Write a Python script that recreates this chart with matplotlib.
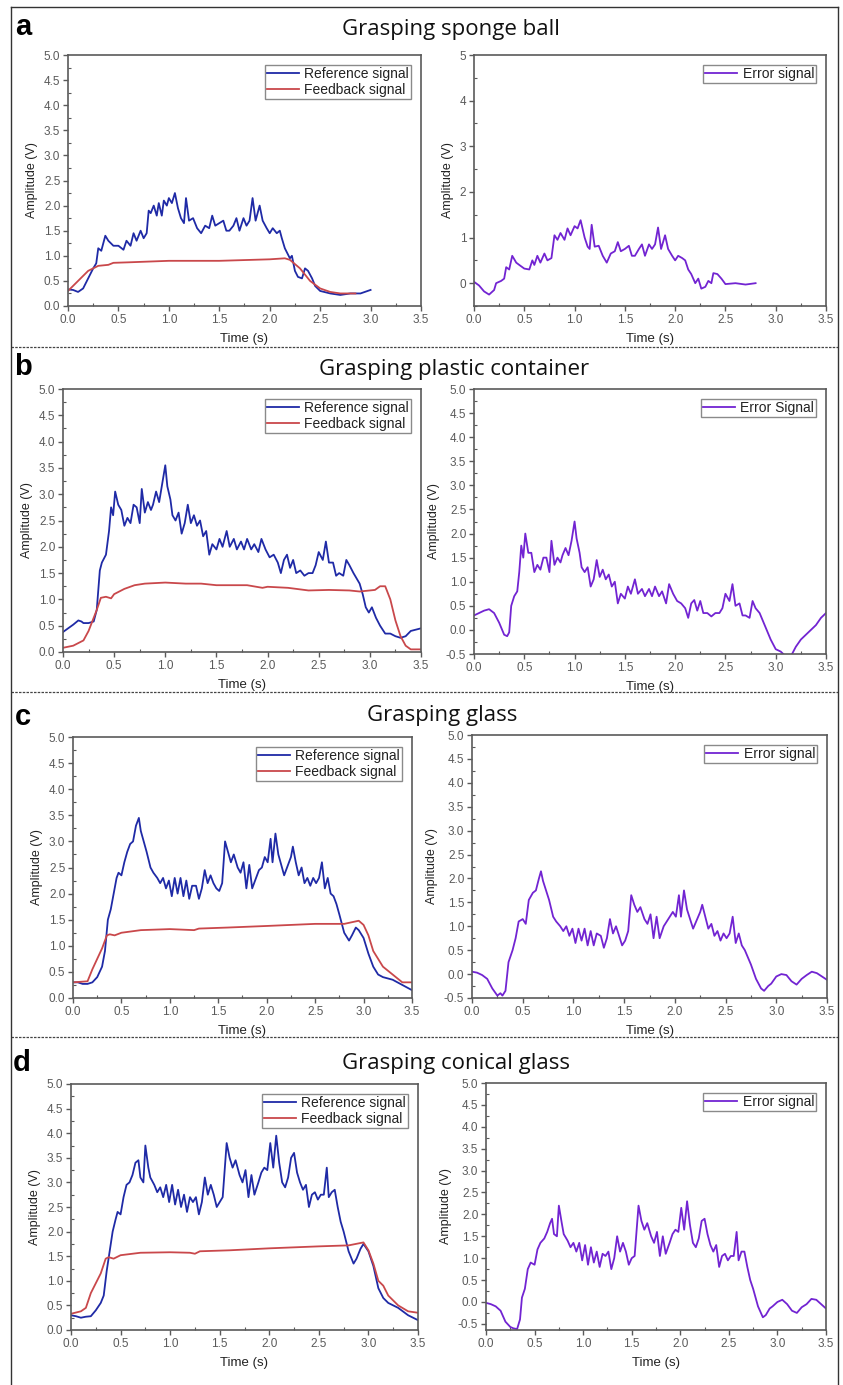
import numpy as np
import matplotlib.pyplot as plt
from matplotlib.ticker import MultipleLocator, FormatStrFormatter
from matplotlib.lines import Line2D

# ---- data: (time s, amplitude V) ----
sponge_ref = [(0.0, 0.33), (0.05, 0.32), (0.1, 0.28), (0.15, 0.35), (0.2, 0.55), (0.25, 0.75), (0.28, 0.85),
              (0.3, 1.15), (0.33, 1.1), (0.37, 1.4), (0.4, 1.3), (0.45, 1.2), (0.5, 1.2), (0.55, 1.12),
              (0.58, 1.3), (0.62, 1.2), (0.65, 1.45), (0.68, 1.3), (0.72, 1.5), (0.75, 1.35), (0.78, 1.45),
              (0.8, 1.9), (0.82, 1.85), (0.85, 2.0), (0.88, 1.8), (0.9, 2.05), (0.93, 1.8), (0.95, 2.1),
              (0.98, 2.0), (1.0, 2.15), (1.03, 2.05), (1.06, 2.25), (1.09, 1.95), (1.12, 1.75), (1.15, 1.65),
              (1.17, 2.15), (1.2, 1.7), (1.24, 1.75), (1.28, 1.55), (1.32, 1.45), (1.36, 1.6), (1.4, 1.55),
              (1.43, 1.8), (1.46, 1.6), (1.5, 1.65), (1.54, 1.7), (1.57, 1.5), (1.6, 1.5), (1.64, 1.6),
              (1.67, 1.75), (1.7, 1.5), (1.74, 1.75), (1.77, 1.6), (1.8, 1.7), (1.83, 2.15), (1.86, 1.7),
              (1.9, 2.0), (1.93, 1.7), (1.97, 1.55), (2.0, 1.45), (2.03, 1.55), (2.07, 1.45), (2.1, 1.5),
              (2.12, 1.35), (2.15, 1.15), (2.2, 0.95), (2.22, 1.0), (2.25, 0.7), (2.28, 0.58), (2.32, 0.55),
              (2.35, 0.75), (2.38, 0.7), (2.42, 0.55), (2.45, 0.4), (2.5, 0.3), (2.6, 0.25), (2.7, 0.22),
              (2.8, 0.25), (2.9, 0.25), (3.0, 0.32)]
sponge_fb = [(0.0, 0.3), (0.1, 0.5), (0.2, 0.7), (0.3, 0.8), (0.4, 0.82), (0.45, 0.86), (0.6, 0.87),
             (1.0, 0.9), (1.5, 0.9), (2.0, 0.93), (2.15, 0.95), (2.2, 0.92), (2.3, 0.75), (2.4, 0.5),
             (2.5, 0.35), (2.6, 0.28), (2.7, 0.25), (2.85, 0.25)]
sponge_err = [(0.0, 0.03), (0.05, -0.05), (0.1, -0.18), (0.15, -0.25), (0.2, -0.15), (0.22, 0.0), (0.27, 0.05),
              (0.3, 0.1), (0.32, 0.35), (0.35, 0.3), (0.38, 0.6), (0.42, 0.45), (0.45, 0.4), (0.5, 0.32),
              (0.55, 0.3), (0.58, 0.5), (0.6, 0.4), (0.63, 0.6), (0.66, 0.45), (0.7, 0.65), (0.73, 0.5),
              (0.77, 0.55), (0.8, 1.05), (0.83, 0.95), (0.86, 1.1), (0.9, 0.95), (0.93, 1.2), (0.96, 1.05),
              (1.0, 1.25), (1.03, 1.2), (1.06, 1.38), (1.1, 1.0), (1.13, 0.8), (1.15, 0.75), (1.17, 1.28),
              (1.2, 0.8), (1.24, 0.82), (1.28, 0.6), (1.32, 0.45), (1.36, 0.65), (1.4, 0.7), (1.43, 0.9),
              (1.46, 0.7), (1.5, 0.75), (1.54, 0.82), (1.57, 0.6), (1.6, 0.6), (1.64, 0.75), (1.67, 0.85),
              (1.7, 0.6), (1.74, 0.85), (1.77, 0.75), (1.8, 0.85), (1.83, 1.22), (1.86, 0.75), (1.9, 1.05),
              (1.93, 0.75), (1.97, 0.6), (2.0, 0.5), (2.03, 0.6), (2.07, 0.55), (2.1, 0.5), (2.13, 0.3),
              (2.16, 0.2), (2.2, 0.0), (2.23, 0.1), (2.26, -0.12), (2.3, -0.08), (2.33, 0.05), (2.36, 0.0),
              (2.38, 0.22), (2.42, 0.2), (2.46, 0.1), (2.5, -0.02), (2.6, 0.0), (2.7, -0.03), (2.8, 0.0)]

container_ref = [(0.0, 0.38), (0.05, 0.45), (0.1, 0.52), (0.15, 0.6), (0.18, 0.58), (0.2, 0.55), (0.25, 0.55),
                 (0.3, 0.58), (0.33, 0.8), (0.36, 1.55), (0.38, 1.7), (0.42, 1.85), (0.45, 2.3), (0.47, 2.75),
                 (0.49, 2.6), (0.51, 3.05), (0.54, 2.8), (0.57, 2.7), (0.6, 2.4), (0.63, 2.55), (0.66, 2.45),
                 (0.69, 2.8), (0.72, 2.75), (0.75, 2.45), (0.77, 3.1), (0.8, 2.65), (0.83, 2.85), (0.86, 2.7),
                 (0.88, 2.8), (0.91, 3.05), (0.94, 2.85), (0.97, 3.2), (1.0, 3.55), (1.02, 3.15), (1.05, 2.9),
                 (1.07, 2.6), (1.1, 2.5), (1.13, 2.65), (1.16, 2.25), (1.19, 2.45), (1.22, 2.8), (1.25, 2.45),
                 (1.28, 2.6), (1.31, 2.4), (1.34, 2.5), (1.37, 2.2), (1.4, 2.3), (1.43, 1.85), (1.46, 2.05),
                 (1.5, 1.95), (1.53, 2.15), (1.56, 2.0), (1.6, 2.3), (1.63, 2.0), (1.67, 2.15), (1.7, 1.95),
                 (1.74, 2.1), (1.77, 1.95), (1.8, 2.15), (1.84, 1.95), (1.87, 2.05), (1.91, 1.9), (1.94, 2.15),
                 (1.98, 1.95), (2.02, 1.8), (2.06, 1.85), (2.1, 1.7), (2.13, 1.5), (2.16, 1.75), (2.19, 1.85),
                 (2.22, 1.6), (2.25, 1.75), (2.28, 1.5), (2.32, 1.55), (2.36, 1.45), (2.4, 1.5), (2.44, 1.5),
                 (2.47, 1.65), (2.5, 1.9), (2.54, 1.75), (2.57, 2.1), (2.6, 1.7), (2.64, 1.7), (2.67, 1.45),
                 (2.7, 1.5), (2.74, 1.45), (2.77, 1.75), (2.8, 1.65), (2.84, 1.5), (2.87, 1.4), (2.9, 1.3),
                 (2.93, 1.1), (2.96, 0.85), (2.99, 0.75), (3.02, 0.85), (3.06, 0.65), (3.1, 0.5), (3.15, 0.35),
                 (3.2, 0.35), (3.25, 0.3), (3.3, 0.27), (3.35, 0.3), (3.4, 0.4), (3.5, 0.45)]
container_fb = [(0.0, 0.08), (0.1, 0.12), (0.2, 0.22), (0.25, 0.4), (0.3, 0.65), (0.33, 0.8), (0.37, 1.03),
                (0.42, 1.05), (0.47, 1.02), (0.5, 1.1), (0.6, 1.2), (0.7, 1.27), (0.8, 1.3), (1.0, 1.32),
                (1.2, 1.3), (1.35, 1.3), (1.5, 1.27), (1.8, 1.27), (1.95, 1.22), (2.0, 1.24), (2.2, 1.22),
                (2.4, 1.17), (2.6, 1.18), (2.8, 1.17), (2.9, 1.15), (3.05, 1.18), (3.1, 1.25), (3.15, 1.25),
                (3.2, 1.0), (3.25, 0.6), (3.3, 0.3), (3.35, 0.12), (3.4, 0.05), (3.5, 0.05)]
container_err = [(0.0, 0.3), (0.05, 0.35), (0.1, 0.4), (0.15, 0.43), (0.2, 0.35), (0.25, 0.15), (0.3, -0.1),
                 (0.33, -0.13), (0.35, -0.05), (0.37, 0.5), (0.4, 0.7), (0.43, 0.8), (0.45, 1.2), (0.47, 1.75),
                 (0.49, 1.5), (0.51, 2.0), (0.54, 1.6), (0.57, 1.6), (0.6, 1.2), (0.63, 1.35), (0.66, 1.25),
                 (0.69, 1.5), (0.72, 1.5), (0.75, 1.2), (0.77, 1.85), (0.8, 1.35), (0.83, 1.5), (0.86, 1.4),
                 (0.88, 1.55), (0.91, 1.7), (0.94, 1.55), (0.97, 1.85), (1.0, 2.25), (1.02, 1.9), (1.05, 1.6),
                 (1.07, 1.3), (1.1, 1.2), (1.13, 1.3), (1.16, 0.9), (1.19, 1.05), (1.22, 1.45), (1.25, 1.1),
                 (1.28, 1.25), (1.31, 1.05), (1.34, 1.15), (1.37, 0.9), (1.4, 1.0), (1.43, 0.55), (1.46, 0.75),
                 (1.5, 0.65), (1.53, 0.9), (1.56, 0.75), (1.6, 1.05), (1.63, 0.75), (1.67, 0.85), (1.7, 0.7),
                 (1.74, 0.85), (1.77, 0.7), (1.8, 0.9), (1.84, 0.7), (1.87, 0.8), (1.91, 0.55), (1.94, 0.95),
                 (1.98, 0.75), (2.02, 0.6), (2.06, 0.55), (2.1, 0.45), (2.13, 0.25), (2.16, 0.55), (2.19, 0.62),
                 (2.22, 0.4), (2.25, 0.6), (2.28, 0.35), (2.32, 0.35), (2.36, 0.28), (2.4, 0.35), (2.44, 0.35),
                 (2.47, 0.45), (2.5, 0.75), (2.54, 0.6), (2.57, 0.95), (2.6, 0.5), (2.64, 0.55), (2.67, 0.3),
                 (2.7, 0.3), (2.74, 0.25), (2.77, 0.6), (2.8, 0.45), (2.84, 0.35), (2.87, 0.2), (2.9, 0.05),
                 (2.95, -0.2), (3.0, -0.4), (3.05, -0.45), (3.1, -0.55), (3.15, -0.55), (3.2, -0.35),
                 (3.25, -0.2), (3.3, -0.1), (3.35, 0.0), (3.4, 0.1), (3.45, 0.25), (3.5, 0.35)]

glass_ref = [(0.0, 0.3), (0.05, 0.3), (0.1, 0.27), (0.15, 0.27), (0.2, 0.3), (0.25, 0.4), (0.3, 0.6), (0.33, 0.9),
             (0.36, 1.5), (0.39, 1.7), (0.42, 2.0), (0.45, 2.3), (0.47, 2.4), (0.5, 2.35), (0.53, 2.6),
             (0.56, 2.8), (0.59, 2.95), (0.62, 3.0), (0.65, 3.3), (0.68, 3.45), (0.7, 3.2), (0.73, 3.0),
             (0.76, 2.8), (0.8, 2.5), (0.83, 2.4), (0.87, 2.3), (0.9, 2.2), (0.93, 2.3), (0.96, 2.1),
             (0.99, 2.25), (1.02, 1.95), (1.05, 2.3), (1.08, 2.0), (1.11, 2.3), (1.14, 1.95), (1.17, 2.25),
             (1.2, 1.9), (1.23, 2.15), (1.27, 2.15), (1.3, 1.9), (1.33, 2.1), (1.36, 2.45), (1.39, 2.2),
             (1.42, 2.35), (1.45, 2.2), (1.48, 2.1), (1.51, 2.05), (1.54, 2.2), (1.57, 3.0), (1.6, 2.8),
             (1.63, 2.6), (1.66, 2.75), (1.7, 2.5), (1.73, 2.4), (1.76, 2.6), (1.79, 2.1), (1.82, 2.55),
             (1.85, 2.1), (1.89, 2.3), (1.92, 2.45), (1.95, 2.5), (1.98, 2.7), (2.01, 2.6), (2.04, 3.05),
             (2.06, 2.6), (2.09, 3.15), (2.12, 2.75), (2.15, 2.55), (2.18, 2.35), (2.21, 2.5), (2.25, 2.7),
             (2.27, 2.9), (2.3, 2.6), (2.33, 2.35), (2.36, 2.5), (2.39, 2.2), (2.42, 2.3), (2.45, 2.15),
             (2.48, 2.3), (2.51, 2.2), (2.54, 2.3), (2.57, 2.6), (2.6, 2.1), (2.63, 2.3), (2.66, 2.0),
             (2.69, 1.95), (2.72, 1.8), (2.75, 1.6), (2.8, 1.25), (2.85, 1.1), (2.88, 1.2), (2.92, 1.35),
             (2.95, 1.3), (3.0, 1.15), (3.05, 0.85), (3.1, 0.6), (3.15, 0.45), (3.2, 0.4), (3.3, 0.35),
             (3.4, 0.25), (3.5, 0.15)]
glass_fb = [(0.0, 0.3), (0.15, 0.32), (0.2, 0.55), (0.25, 0.75), (0.3, 0.95), (0.35, 1.2), (0.38, 1.22),
            (0.43, 1.2), (0.5, 1.25), (0.7, 1.3), (1.0, 1.32), (1.25, 1.3), (1.3, 1.33), (1.6, 1.35),
            (2.0, 1.38), (2.5, 1.42), (2.8, 1.42), (2.95, 1.48), (3.0, 1.4), (3.05, 1.2), (3.1, 0.9),
            (3.15, 0.75), (3.2, 0.6), (3.3, 0.45), (3.4, 0.3), (3.5, 0.3)]
glass_err = [(0.0, 0.05), (0.05, 0.03), (0.1, -0.02), (0.15, -0.1), (0.2, -0.3), (0.25, -0.45), (0.28, -0.4),
             (0.3, -0.45), (0.33, -0.35), (0.36, 0.25), (0.4, 0.5), (0.43, 0.75), (0.46, 1.1), (0.5, 1.15),
             (0.53, 1.05), (0.56, 1.55), (0.6, 1.7), (0.63, 1.75), (0.66, 2.0), (0.68, 2.15), (0.7, 1.95),
             (0.73, 1.75), (0.76, 1.55), (0.8, 1.2), (0.83, 1.1), (0.87, 1.0), (0.9, 0.9), (0.93, 1.0),
             (0.96, 0.8), (0.99, 0.95), (1.02, 0.65), (1.05, 0.95), (1.08, 0.7), (1.11, 0.95), (1.14, 0.6),
             (1.17, 0.9), (1.2, 0.6), (1.23, 0.85), (1.27, 0.8), (1.3, 0.55), (1.33, 0.75), (1.36, 1.15),
             (1.39, 0.85), (1.42, 1.0), (1.45, 0.8), (1.48, 0.6), (1.51, 0.7), (1.54, 0.9), (1.57, 1.65),
             (1.6, 1.45), (1.63, 1.3), (1.66, 1.4), (1.7, 1.15), (1.73, 1.05), (1.76, 1.25), (1.79, 0.75),
             (1.82, 1.2), (1.85, 0.75), (1.89, 1.0), (1.92, 1.1), (1.95, 1.2), (1.98, 1.3), (2.01, 1.2),
             (2.04, 1.65), (2.06, 1.2), (2.09, 1.75), (2.12, 1.35), (2.15, 1.15), (2.18, 0.95), (2.21, 1.1),
             (2.25, 1.3), (2.27, 1.45), (2.3, 1.2), (2.33, 0.95), (2.36, 1.05), (2.39, 0.8), (2.42, 0.9),
             (2.45, 0.7), (2.48, 0.85), (2.51, 0.75), (2.54, 0.85), (2.57, 1.2), (2.6, 0.65), (2.63, 0.85),
             (2.66, 0.6), (2.69, 0.5), (2.72, 0.35), (2.75, 0.2), (2.8, -0.1), (2.85, -0.3), (2.88, -0.35),
             (2.92, -0.25), (2.95, -0.2), (3.0, -0.05), (3.05, 0.0), (3.1, -0.02), (3.15, -0.15),
             (3.2, -0.22), (3.25, -0.1), (3.3, -0.02), (3.35, 0.05), (3.4, 0.02), (3.45, -0.05), (3.5, -0.12)]

conical_ref = [(0.0, 0.3), (0.05, 0.28), (0.1, 0.25), (0.15, 0.27), (0.2, 0.28), (0.25, 0.4), (0.3, 0.55),
               (0.33, 0.7), (0.36, 1.2), (0.39, 1.6), (0.42, 2.0), (0.45, 2.25), (0.47, 2.4), (0.5, 2.35),
               (0.53, 2.7), (0.56, 2.95), (0.59, 3.0), (0.62, 3.15), (0.65, 3.4), (0.68, 3.45), (0.7, 3.1),
               (0.73, 3.0), (0.75, 3.75), (0.78, 3.3), (0.8, 3.1), (0.84, 2.95), (0.87, 2.8), (0.9, 2.9),
               (0.93, 2.7), (0.96, 2.95), (0.99, 2.6), (1.02, 2.95), (1.05, 2.55), (1.08, 2.85), (1.11, 2.5),
               (1.14, 2.75), (1.17, 2.4), (1.2, 2.7), (1.23, 2.6), (1.26, 2.7), (1.29, 2.35), (1.32, 2.6),
               (1.35, 3.1), (1.38, 2.75), (1.41, 2.95), (1.44, 2.75), (1.47, 2.5), (1.5, 2.6), (1.53, 2.7),
               (1.57, 3.8), (1.6, 3.5), (1.63, 3.3), (1.66, 3.45), (1.7, 3.15), (1.73, 3.0), (1.76, 3.25),
               (1.79, 2.7), (1.82, 3.15), (1.85, 2.75), (1.89, 3.0), (1.92, 3.2), (1.95, 3.3), (1.98, 3.25),
               (2.01, 3.8), (2.04, 3.3), (2.07, 3.95), (2.1, 3.4), (2.13, 3.0), (2.16, 2.9), (2.19, 3.1),
               (2.22, 3.5), (2.25, 3.6), (2.28, 3.2), (2.31, 3.0), (2.34, 2.85), (2.37, 2.95), (2.4, 2.5),
               (2.43, 2.75), (2.46, 2.8), (2.49, 2.65), (2.52, 2.75), (2.55, 2.75), (2.58, 3.3), (2.6, 2.7),
               (2.63, 2.8), (2.66, 2.85), (2.69, 2.5), (2.72, 2.2), (2.75, 2.0), (2.8, 1.6), (2.85, 1.35),
               (2.88, 1.45), (2.92, 1.65), (2.95, 1.75), (3.0, 1.6), (3.05, 1.3), (3.1, 0.85), (3.15, 0.65),
               (3.2, 0.55), (3.3, 0.45), (3.4, 0.3), (3.5, 0.2)]
conical_fb = [(0.0, 0.33), (0.1, 0.38), (0.15, 0.45), (0.2, 0.75), (0.25, 0.95), (0.3, 1.15), (0.35, 1.45),
              (0.38, 1.48), (0.43, 1.45), (0.5, 1.52), (0.7, 1.57), (1.0, 1.58), (1.2, 1.57), (1.25, 1.55),
              (1.3, 1.6), (1.6, 1.62), (2.0, 1.66), (2.5, 1.7), (2.8, 1.72), (2.95, 1.78), (3.0, 1.62),
              (3.05, 1.35), (3.1, 1.0), (3.15, 0.9), (3.2, 0.7), (3.3, 0.5), (3.4, 0.38), (3.5, 0.35)]
conical_err = [(0.0, -0.02), (0.05, -0.05), (0.1, -0.1), (0.15, -0.2), (0.2, -0.45), (0.25, -0.57), (0.28, -0.6),
               (0.32, -0.62), (0.35, -0.4), (0.37, 0.1), (0.4, 0.3), (0.43, 0.75), (0.46, 0.9), (0.5, 0.85),
               (0.53, 1.2), (0.56, 1.35), (0.6, 1.45), (0.63, 1.6), (0.66, 1.8), (0.68, 1.9), (0.7, 1.55),
               (0.73, 1.5), (0.75, 2.2), (0.78, 1.8), (0.8, 1.55), (0.84, 1.4), (0.87, 1.25), (0.9, 1.35),
               (0.93, 1.15), (0.96, 1.35), (0.99, 0.95), (1.02, 1.3), (1.05, 0.85), (1.08, 1.25), (1.11, 0.9),
               (1.14, 1.15), (1.17, 0.8), (1.2, 1.1), (1.23, 1.05), (1.26, 1.15), (1.29, 0.75), (1.32, 1.0),
               (1.35, 1.5), (1.38, 1.15), (1.41, 1.35), (1.44, 1.15), (1.47, 0.85), (1.5, 1.0), (1.53, 1.05),
               (1.57, 2.2), (1.6, 1.85), (1.63, 1.65), (1.66, 1.8), (1.7, 1.5), (1.73, 1.35), (1.76, 1.6),
               (1.79, 1.05), (1.82, 1.5), (1.85, 1.1), (1.89, 1.35), (1.92, 1.55), (1.95, 1.65), (1.98, 1.6),
               (2.01, 2.15), (2.04, 1.65), (2.07, 2.3), (2.1, 1.75), (2.13, 1.35), (2.16, 1.25), (2.19, 1.45),
               (2.22, 1.85), (2.25, 1.9), (2.28, 1.55), (2.31, 1.3), (2.34, 1.15), (2.37, 1.3), (2.4, 0.8),
               (2.43, 1.05), (2.46, 1.1), (2.49, 0.95), (2.52, 1.05), (2.55, 1.05), (2.58, 1.6), (2.6, 0.95),
               (2.63, 1.15), (2.66, 1.15), (2.69, 0.8), (2.72, 0.5), (2.75, 0.3), (2.8, -0.1), (2.85, -0.35),
               (2.88, -0.3), (2.92, -0.15), (2.95, -0.1), (3.0, 0.0), (3.05, 0.05), (3.1, -0.05), (3.15, -0.2),
               (3.2, -0.25), (3.25, -0.12), (3.3, -0.05), (3.35, 0.07), (3.4, 0.05), (3.45, -0.05), (3.5, -0.15)]

titles = ['Grasping sponge ball', 'Grasping plastic container', 'Grasping glass', 'Grasping conical glass']
letters = ['a', 'b', 'c', 'd']
err_labels = ['Error signal', 'Error Signal', 'Error signal', 'Error signal']

BLUE = '#1f2aa6'
RED = '#c9484b'
PURPLE = '#7224d2'
AX = '#5a5a5a'
LW = 1.3

W, H = 843, 1385
fig = plt.figure(figsize=(W / 100, H / 100), dpi=100)
plt.rcParams['font.family'] = ['Liberation Sans', 'DejaVu Sans']


def rect(x0, y0, x1, y1):
    return [x0 / W, 1 - y1 / H, (x1 - x0) / W, (y1 - y0) / H]


def style(ax, ylim, ystep, yfmt):
    ax.set_xlim(0, 3.5)
    ax.set_ylim(*ylim)
    ax.xaxis.set_major_locator(MultipleLocator(0.5))
    ax.xaxis.set_minor_locator(MultipleLocator(0.25))
    ax.yaxis.set_major_locator(MultipleLocator(ystep))
    ax.yaxis.set_minor_locator(MultipleLocator(ystep / 2))
    ax.xaxis.set_major_formatter(FormatStrFormatter('%.1f'))
    ax.yaxis.set_major_formatter(FormatStrFormatter(yfmt))
    for s in ax.spines.values():
        s.set_color(AX)
        s.set_linewidth(1.2)
    ax.tick_params(which='both', colors=AX, labelsize=8.5, top=False, right=False)
    ax.tick_params(which='major', direction='out', length=3.5, width=1, pad=2)
    ax.tick_params(which='minor', direction='in', length=2.5, width=0.8)
    ax.set_xlabel('Time (s)', fontsize=9.5, color='#222222', labelpad=5)
    ax.set_ylabel('Amplitude (V)', fontsize=9, color='#222222', labelpad=4)


def leg(ax, handles):
    lg = ax.legend(handles=handles, loc='upper right', fontsize=10, fancybox=False, framealpha=1,
                   edgecolor='#8a8a8a', borderpad=0.15, labelspacing=0.15, handlelength=2.3,
                   handletextpad=0.4, borderaxespad=0.7)
    lg.get_frame().set_linewidth(1.0)
    for t in lg.get_texts():
        t.set_color('#222222')


left_boxes = [(68, 55, 421, 306), (63, 389, 421, 652), (73, 737, 412, 998), (71, 1084, 418, 1330)]
right_boxes = [(474, 55, 826, 306), (474, 389, 826, 654), (472, 735, 827, 998), (486, 1083, 826, 1330)]
right_ylims = [(-0.5, 5), (-0.5, 5), (-0.5, 5), (-0.64, 5)]
title_pos = [(451, 30), (454, 370), (442, 715), (456, 1063)]
letter_pos = [(15, 27), (14, 367), (15, 717), (13, 1063)]

series = [(sponge_ref, sponge_fb, sponge_err), (container_ref, container_fb, container_err),
          (glass_ref, glass_fb, glass_err), (conical_ref, conical_fb, conical_err)]

for i, (ref, fb, err) in enumerate(series):
    axl = fig.add_axes(rect(*left_boxes[i]))
    r = np.array(ref)
    f = np.array(fb)
    axl.plot(r[:, 0], r[:, 1], color=BLUE, lw=LW)
    axl.plot(f[:, 0], f[:, 1], color=RED, lw=LW)
    style(axl, (0, 5), 0.5, '%.1f')
    leg(axl, [Line2D([], [], color=BLUE, lw=LW, label='Reference signal'),
              Line2D([], [], color=RED, lw=LW, label='Feedback signal')])

    axr = fig.add_axes(rect(*right_boxes[i]))
    e = np.array(err)
    axr.plot(e[:, 0], e[:, 1], color=PURPLE, lw=LW)
    if i == 0:
        style(axr, right_ylims[i], 1, '%d')
    else:
        style(axr, right_ylims[i], 0.5, '%.1f')
    leg(axr, [Line2D([], [], color=PURPLE, lw=LW, label=err_labels[i])])

    tx, ty = title_pos[i]
    fig.text(tx / W, 1 - ty / H, titles[i], ha='center', va='center', fontsize=16,
             family=['Open Sans', 'DejaVu Sans'], color='#111111')
    lx, ly = letter_pos[i]
    fig.text(lx / W, 1 - ly / H, letters[i], ha='left', va='center', fontsize=21,
             fontweight='bold', color='#000000')

# frame and dashed separators
for y in [347, 692, 1037]:
    fig.add_artist(Line2D([11 / W, 838 / W], [1 - y / H, 1 - y / H], color='#444444', lw=0.9,
                          linestyle=(0, (2, 1))))
fig.add_artist(Line2D([11 / W, 11 / W], [0, 1 - 7 / H], color='#333333', lw=1.0))
fig.add_artist(Line2D([838 / W, 838 / W], [0, 1 - 7 / H], color='#333333', lw=1.0))
fig.add_artist(Line2D([11 / W, 838 / W], [1 - 7 / H, 1 - 7 / H], color='#333333', lw=1.0))

fig.savefig('out.png', dpi=100)
